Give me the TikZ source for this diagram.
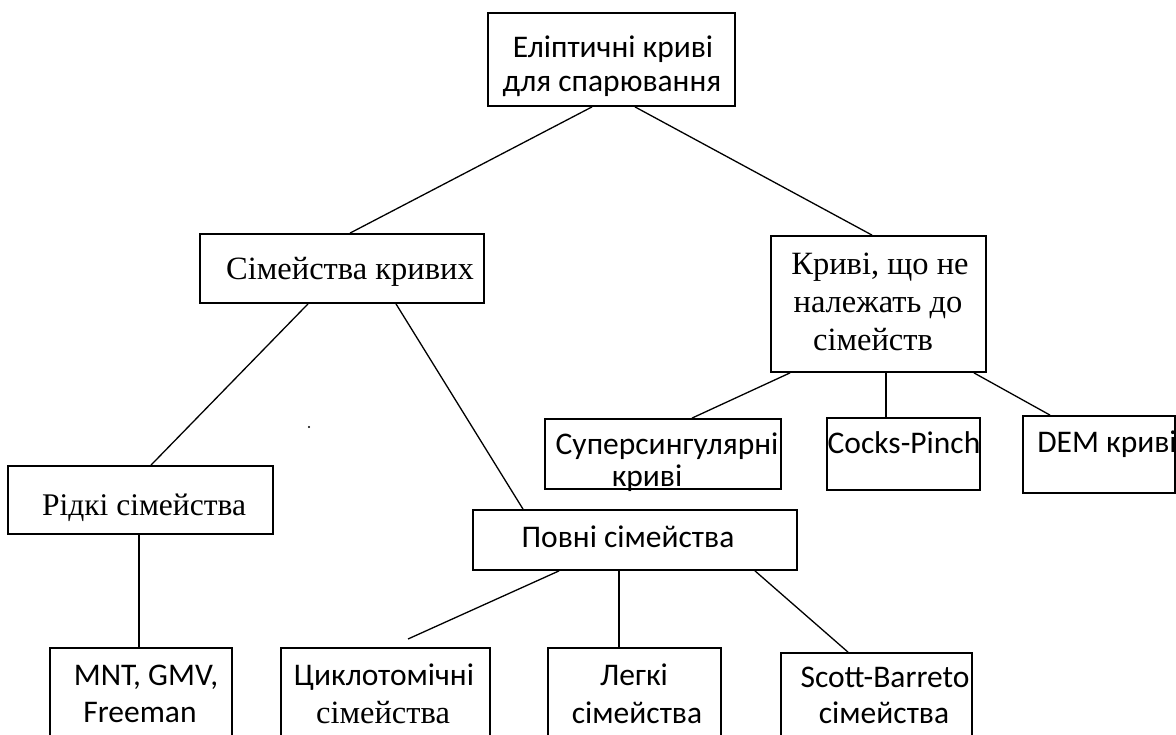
\documentclass[tikz,border=0pt]{standalone}
\usepackage{fontspec}
\newfontfamily\calfont{Carlito}
\newfontfamily\tmsfont{Liberation Serif}
\newcommand{\calsz}{\calfont\fontsize{31.5}{35}\selectfont}
\newcommand{\tmssz}{\tmsfont\fontsize{32.5}{38}\selectfont}
\tikzset{
  box/.style={draw=black, line width=1.8pt, fill=white, rectangle, inner sep=0pt},
  lbl/.style={inner sep=0pt, align=center, text=black},
  conn/.style={draw=black, line width=1.3pt},
}
\begin{document}
\begin{tikzpicture}[x=1pt,y=-1pt]
\useasboundingbox (0,0) rectangle (1176,734);
\clip (0,0) rectangle (1176,734);
\fill[white] (0,0) rectangle (1176,734);
% boxes
\node[box, minimum width=247pt, minimum height=93pt] (top) at (611.5,59.5) {};
\node[box, minimum width=284pt, minimum height=69pt] (sim) at (342,268.5) {};
\node[box, minimum width=215pt, minimum height=136pt] (kr) at (878.5,304) {};
\node[box, minimum width=236pt, minimum height=70pt] (sup) at (663,454) {};
\node[box, minimum width=153pt, minimum height=72pt] (cp) at (903.5,454) {};
\node[box, minimum width=152pt, minimum height=77pt] (dem) at (1099,454.5) {};
\node[box, minimum width=265pt, minimum height=68pt] (rid) at (140.5,500) {};
\node[box, minimum width=324pt, minimum height=60pt] (pov) at (635,540) {};
\node[box, minimum width=182pt, minimum height=112pt] (mnt) at (141,704) {};
\node[box, minimum width=209pt, minimum height=112pt] (cyc) at (385.5,704) {};
\node[box, minimum width=173pt, minimum height=112pt] (lg) at (634.5,704) {};
\node[box, minimum width=191pt, minimum height=107pt] (sb) at (876.5,706.5) {};
% labels
\node[lbl, font=\calsz, anchor=base] (ttop1) at (613,57) {Еліптичні криві};
\node[lbl, font=\calsz, anchor=base] (ttop2) at (612,91) {для спарювання};
\node[lbl, font=\tmssz, anchor=base] (tsim) at (350,279) {Сімейства кривих};
\node[lbl, font=\tmssz, anchor=base] (tkr1) at (880,274) {Криві, що не};
\node[lbl, font=\tmssz, anchor=base] (tkr2) at (878,312) {належать до};
\node[lbl, font=\tmssz, anchor=base] (tkr3) at (873,350) {сімейств};
\node[lbl, font=\calsz, anchor=base] (tsup1) at (667,454) {Суперсингулярні};
\node[lbl, font=\calsz, anchor=base] (tsup2) at (647,486) {криві};
\node[lbl, font=\calsz, anchor=base] (tcp) at (904,453) {Cocks-Pinch};
\node[lbl, font=\calsz, anchor=base] (tdem) at (1107,452) {DEM криві};
\node[lbl, font=\tmsfont\fontsize{31.5}{38}\selectfont, anchor=base] (trid) at (144,515) {Рідкі сімейства};
\node[lbl, font=\calsz, anchor=base] (tpov) at (628,547) {Повні сімейства};
\node[lbl, font=\calsz, anchor=base] (tmnt1) at (146,685) {MNT, GMV,};
\node[lbl, font=\calsz, anchor=base] (tmnt2) at (140,722) {Freeman};
\node[lbl, font=\calsz, anchor=base] (tcyc1) at (384,685) {Циклотомічні};
\node[lbl, font=\tmssz, anchor=base] (tcyc2) at (383,723) {сімейства};
\node[lbl, font=\calsz, anchor=base] (tlg1) at (634,685) {Легкі};
\node[lbl, font=\calsz, anchor=base] (tlg2) at (637,723) {сімейства};
\node[lbl, font=\calsz, anchor=base] (tsb1) at (885,687) {Scott-Barreto};
\node[lbl, font=\calsz, anchor=base] (tsb2) at (884,723) {сімейства};
% connectors
\coordinate (cycend) at (408,639);
\draw[conn] ([xshift=-19.5pt]top.south) -- ([xshift=8pt]sim.north);
\draw[conn] ([xshift=23.5pt]top.south) -- ([xshift=-6.5pt]kr.north);
\draw[conn] ([xshift=-34pt]sim.south) -- ([xshift=10.5pt]rid.north);
\draw[conn] ([xshift=54pt]sim.south) -- ([xshift=-112pt]pov.north);
\draw[conn] ([xshift=-88.5pt]kr.south) -- ([xshift=29pt]sup.north);
\draw[conn] ([xshift=7.5pt]kr.south) -- ([xshift=-17.5pt]cp.north);
\draw[conn] ([xshift=95.5pt]kr.south) -- ([xshift=-49pt]dem.north);
\draw[conn] ([xshift=-1.5pt]rid.south) -- ([xshift=-2pt]mnt.north);
\draw[conn] ([xshift=-76pt]pov.south) -- (cycend);
\draw[conn] ([xshift=-16pt]pov.south) -- ([xshift=-15.5pt]lg.north);
\draw[conn] ([xshift=120pt]pov.south) -- ([xshift=-28.5pt]sb.north);
% speck
\coordinate (speck) at (309,427);
\fill[black] (speck) circle (1.2pt);
\end{tikzpicture}
\end{document}
